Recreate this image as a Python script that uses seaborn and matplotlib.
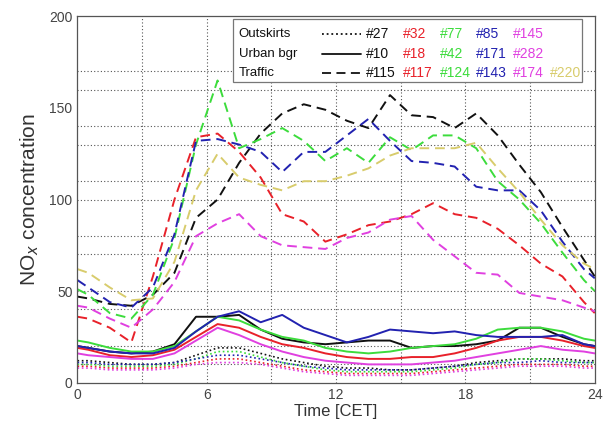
import numpy as np
import pandas as pd
import matplotlib
matplotlib.use("Agg")
import matplotlib.pyplot as plt
import seaborn as sns
from matplotlib.patches import Rectangle

# -----------------------------
# Data (hourly means, plotted at mid-hour, plus the two day edges)
# -----------------------------
hours = [0] + [h + 0.5 for h in range(24)] + [24]

# Outskirts (dotted)
out_27 = [12, 12, 11, 10, 10, 11, 15, 19, 19, 16, 13, 11, 9, 8, 8, 7, 7, 8, 9, 11, 12, 13, 13, 13, 12, 12]
out_32 = [9, 9, 8, 8, 8, 9, 11, 13, 13, 11, 9, 7, 6, 5, 5, 5, 5, 6, 7, 8, 9, 10, 10, 10, 9, 9]
out_77 = [10, 10, 9, 9, 9, 10, 13, 17, 17, 14, 11, 9, 7, 6, 6, 6, 6, 7, 8, 10, 11, 13, 13, 12, 11, 11]
out_85 = [11, 11, 10, 10, 10, 11, 13, 15, 15, 13, 11, 9, 8, 7, 7, 7, 7, 8, 9, 10, 11, 11, 12, 11, 11, 11]
out_145 = [8, 8, 7, 7, 7, 8, 10, 11, 11, 10, 8, 6, 5, 4, 4, 4, 4, 5, 6, 7, 8, 9, 9, 9, 8, 8]

# Urban background (solid)
urb_10 = [20, 19, 17, 16, 17, 21, 36, 36, 37, 29, 24, 22, 21, 22, 23, 23, 19, 20, 20, 21, 23, 30, 30, 25, 21, 20]
urb_18 = [19, 18, 15, 14, 15, 18, 25, 32, 30, 25, 21, 19, 16, 14, 13, 13, 14, 14, 16, 19, 23, 25, 25, 23, 20, 19]
urb_42 = [23, 22, 19, 17, 17, 20, 28, 36, 34, 29, 25, 23, 19, 17, 16, 17, 19, 20, 21, 24, 29, 30, 30, 28, 24, 23]
urb_171 = [20, 19, 17, 16, 16, 19, 28, 36, 39, 33, 37, 30, 26, 22, 25, 29, 28, 27, 28, 26, 25, 25, 25, 26, 21, 20]
urb_282 = [16, 15, 14, 13, 13, 16, 23, 30, 26, 21, 17, 14, 12, 11, 10, 10, 10, 11, 12, 14, 16, 18, 20, 18, 17, 16]

# Traffic (dashed)
tra_115 = [47, 46, 43, 42, 48, 60, 90, 100, 120, 136, 147, 152, 149, 143, 139, 157, 146, 145, 139, 147, 135, 119, 104, 85, 67, 58]
tra_117 = [36, 35, 30, 22, 58, 100, 134, 136, 126, 112, 92, 88, 77, 81, 86, 88, 92, 98, 92, 90, 84, 75, 65, 58, 44, 38]
tra_124 = [51, 48, 38, 35, 48, 79, 130, 165, 128, 133, 139, 132, 121, 128, 120, 134, 127, 135, 135, 128, 110, 100, 87, 71, 56, 50]
tra_143 = [56, 52, 44, 41, 52, 81, 132, 133, 130, 126, 115, 126, 126, 135, 144, 132, 121, 120, 118, 107, 105, 105, 94, 77, 62, 57]
tra_174 = [42, 41, 35, 30, 40, 55, 80, 87, 92, 80, 75, 74, 73, 79, 82, 89, 91, 78, 69, 60, 59, 49, 47, 45, 41, 39]
tra_220 = [62, 60, 52, 45, 46, 66, 105, 125, 112, 108, 105, 110, 110, 113, 117, 124, 128, 128, 128, 131, 117, 104, 89, 75, 65, 62]

groups = ["Outskirts", "Urban bgr", "Traffic"]
stations = {
    "Outskirts": [("#27", out_27), ("#32", out_32), ("#77", out_77), ("#85", out_85), ("#145", out_145)],
    "Urban bgr": [("#10", urb_10), ("#18", urb_18), ("#42", urb_42), ("#171", urb_171), ("#282", urb_282)],
    "Traffic": [("#115", tra_115), ("#117", tra_117), ("#124", tra_124), ("#143", tra_143),
                ("#174", tra_174), ("#220", tra_220)],
}
colors = ["#111111", "#e8212a", "#3cdc3c", "#2222b0", "#e040e0", "#d8cc6c"]
styles = {"Outskirts": (0, (1, 1.6)), "Urban bgr": "-", "Traffic": (0, (5, 3))}
grid_y = [10, 20, 40, 50, 70, 80, 100, 110, 130, 140, 160, 170]
grid_x = [3, 6, 9, 12, 15, 18, 21]

# long table for seaborn
rows = []
for g in groups:
    for i, (name, vals) in enumerate(stations[g]):
        for h, v in zip(hours, vals):
            rows.append({"group": g, "station": name, "idx": i, "hour": h, "value": v})
df = pd.DataFrame(rows)

# -----------------------------
# Plot
# -----------------------------
sns.set_style("white")
plt.rcParams["font.family"] = ["Liberation Sans", "DejaVu Sans"]

fig, ax = plt.subplots(figsize=(6.1, 4.3), dpi=100)
fig.subplots_adjust(left=0.127, right=0.975, top=0.962, bottom=0.11)

for x in grid_x:
    ax.axvline(x, color="#555555", lw=0.8, ls=(0, (1, 2)), zorder=0)
for y in grid_y:
    ax.axhline(y, color="#555555", lw=0.8, ls=(0, (1, 2)), zorder=0)

for g in groups:
    for name, _ in stations[g]:
        sub = df[(df["group"] == g) & (df["station"] == name)]
        c = colors[sub["idx"].iloc[0]]
        sns.lineplot(data=sub, x="hour", y="value", color=c, linestyle=styles[g],
                     lw=1.4 if g != "Outskirts" else 1.2, ax=ax, legend=False)

ax.set_xlim(0, 24)
ax.set_ylim(0, 200)
ax.set_xticks([0, 6, 12, 18, 24])
ax.set_yticks([0, 50, 100, 150, 200])
ax.set_yticks([25, 75, 125, 175], minor=True)
ax.tick_params(axis="both", which="major", direction="in", length=4, labelsize=10,
               labelcolor="#444444", color="#444444")
ax.tick_params(axis="y", which="minor", direction="in", length=2, color="#444444")
for s in ax.spines.values():
    s.set_color("#555555")
    s.set_linewidth(0.9)

ax.set_xlabel("Time [CET]", fontsize=12, color="#333333", labelpad=2)
ax.set_ylabel("NO$_x$ concentration", fontsize=15, color="#333333", labelpad=6)

# custom legend box
ax.add_patch(Rectangle((0.30, 0.822), 0.675, 0.172, transform=ax.transAxes,
                       facecolor="white", edgecolor="#777777", lw=0.9, zorder=5))
row_y = [0.951, 0.897, 0.845]
col_x = [0.557, 0.630, 0.701, 0.771, 0.842, 0.913]
for r, g in enumerate(groups):
    ax.text(0.312, row_y[r], g, transform=ax.transAxes, fontsize=9.5, va="center",
            color="#111111", zorder=6)
    ax.plot([0.472, 0.549], [row_y[r], row_y[r]], transform=ax.transAxes, color="#111111",
            linestyle=styles[g], lw=1.3, zorder=6)
    for i, (name, _) in enumerate(stations[g]):
        ax.text(col_x[i], row_y[r], name, transform=ax.transAxes, fontsize=10, va="center",
                color=colors[i], zorder=6)

plt.savefig("out.png", dpi=100)
